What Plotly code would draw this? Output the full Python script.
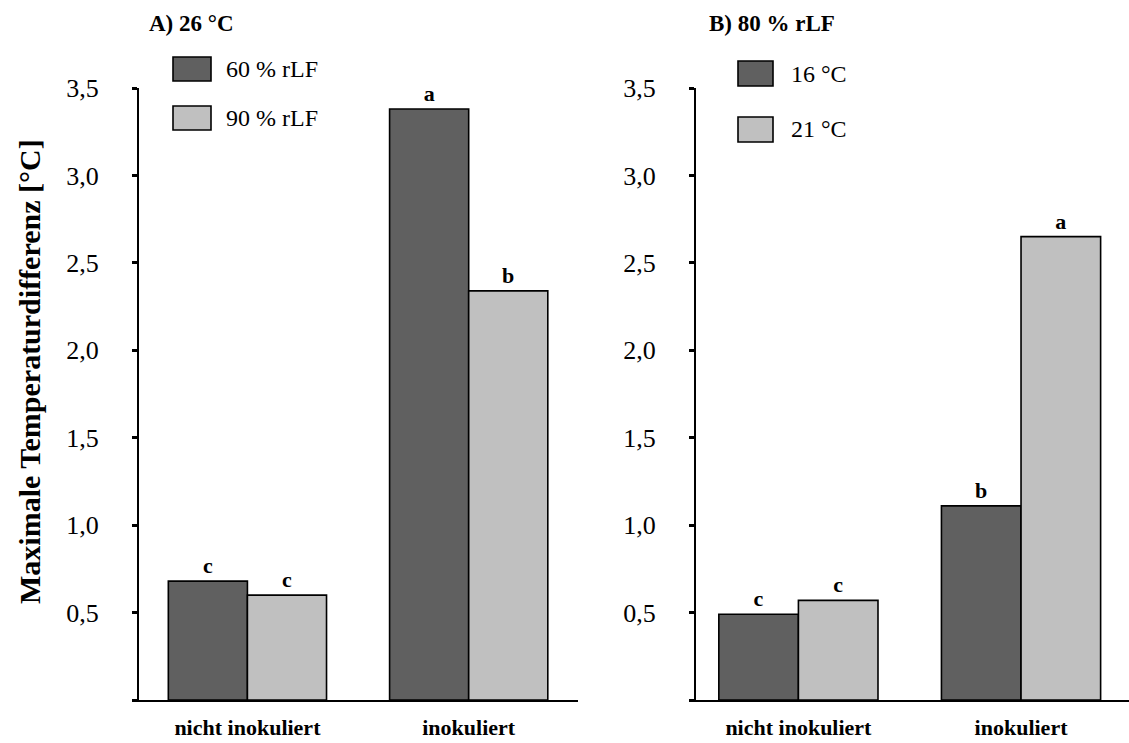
import plotly.graph_objects as go

# Data
categories = ["nicht inokuliert", "inokuliert"]

a_series = ["60 % rLF", "90 % rLF"]
a_values_60 = [0.68, 3.38]
a_values_90 = [0.60, 2.34]
a_letters_60 = ["c", "a"]
a_letters_90 = ["c", "b"]

b_series = ["16 °C", "21 °C"]
b_values_16 = [0.49, 1.11]
b_values_21 = [0.57, 2.65]
b_letters_16 = ["c", "b"]
b_letters_21 = ["c", "a"]

y_ticks = [0, 0.5, 1.0, 1.5, 2.0, 2.5, 3.0, 3.5]
y_ticktext = ["", "0,5", "1,0", "1,5", "2,0", "2,5", "3,0", "3,5"]

W, H = 1129, 743
FONT = "Liberation Serif, Times New Roman, serif"
DARK = "#606060"
LIGHT = "#c0c0c0"


def px(x):
    return x / W


def py(y):
    return 1 - y / H


fig = go.Figure()


def add_bar(values, letters, color, xa, ya, name):
    fig.add_trace(go.Bar(
        x=categories, y=values, name=name,
        marker=dict(color=color, line=dict(color="black", width=1.6)),
        text=letters, textposition="outside",
        textfont=dict(family=FONT, size=22, color="black", weight="bold"),
        cliponaxis=False, xaxis=xa, yaxis=ya, showlegend=False,
    ))


add_bar(a_values_60, a_letters_60, DARK, "x", "y", a_series[0])
add_bar(a_values_90, a_letters_90, LIGHT, "x", "y", a_series[1])
add_bar(b_values_16, b_letters_16, DARK, "x2", "y2", b_series[0])
add_bar(b_values_21, b_letters_21, LIGHT, "x2", "y2", b_series[1])

ydom = [py(700), py(88)]

xaxis_common = dict(
    showline=True, linecolor="black", linewidth=1.6,
    ticks="", showgrid=False, zeroline=False, automargin=False,
    tickfont=dict(family=FONT, size=22, color="black", weight="bold"),
    ticklabelstandoff=7,
)
yaxis_common = dict(
    range=[0, 3.5], tickvals=y_ticks, ticktext=y_ticktext,
    showline=True, linecolor="black", linewidth=2,
    ticks="outside", ticklen=5, tickwidth=3, tickcolor="black",
    showgrid=False, zeroline=False, domain=ydom, automargin=False,
    tickfont=dict(family=FONT, size=26, color="black"),
    ticklabelstandoff=28,
)

fig.update_layout(
    width=W, height=H,
    margin=dict(l=0, r=0, t=0, b=0, pad=0, autoexpand=False),
    paper_bgcolor="white", plot_bgcolor="white",
    barmode="group", bargap=0.285, bargroupgap=0,
    showlegend=False,
    xaxis=dict(domain=[px(139), px(578)], range=[-0.49, 1.494], anchor="y", **xaxis_common),
    yaxis=dict(anchor="x", **yaxis_common),
    xaxis2=dict(domain=[px(696), 1.0], range=[-0.46, 1.485], anchor="y2", **xaxis_common),
    yaxis2=dict(anchor="x2", **yaxis_common),
)

# Panel titles
fig.add_annotation(text="A) 26 °C", x=px(147), y=py(24), xref="paper", yref="paper",
                   xanchor="left", yanchor="middle", showarrow=False,
                   font=dict(family=FONT, size=23, color="black", weight="bold"))
fig.add_annotation(text="B) 80 % rLF", x=px(707), y=py(24), xref="paper", yref="paper",
                   xanchor="left", yanchor="middle", showarrow=False,
                   font=dict(family=FONT, size=23, color="black", weight="bold"))

# Shared y-axis title
fig.add_annotation(text="Maximale Temperaturdifferenz [°C]", x=px(30), y=py(372),
                   xref="paper", yref="paper", textangle=-90,
                   xanchor="center", yanchor="middle", showarrow=False,
                   font=dict(family=FONT, size=30, color="black", weight="bold"))


# Legend swatches and labels
def legend_item(x0, x1, y0, y1, color, label, tx):
    fig.add_shape(type="rect", xref="paper", yref="paper",
                  x0=px(x0), x1=px(x1), y0=py(y1), y1=py(y0),
                  fillcolor=color, line=dict(color="black", width=1.6))
    fig.add_annotation(text=label, x=px(tx), y=py((y0 + y1) / 2), xref="paper", yref="paper",
                       xanchor="left", yanchor="middle", showarrow=False,
                       font=dict(family=FONT, size=24, color="black"))


legend_item(173, 211, 57, 81, DARK, a_series[0], 224)
legend_item(173, 211, 106, 130, LIGHT, a_series[1], 224)
legend_item(738, 773, 61, 86, DARK, b_series[0], 789)
legend_item(738, 773, 117, 142, LIGHT, b_series[1], 789)

fig.write_html("out.html")
